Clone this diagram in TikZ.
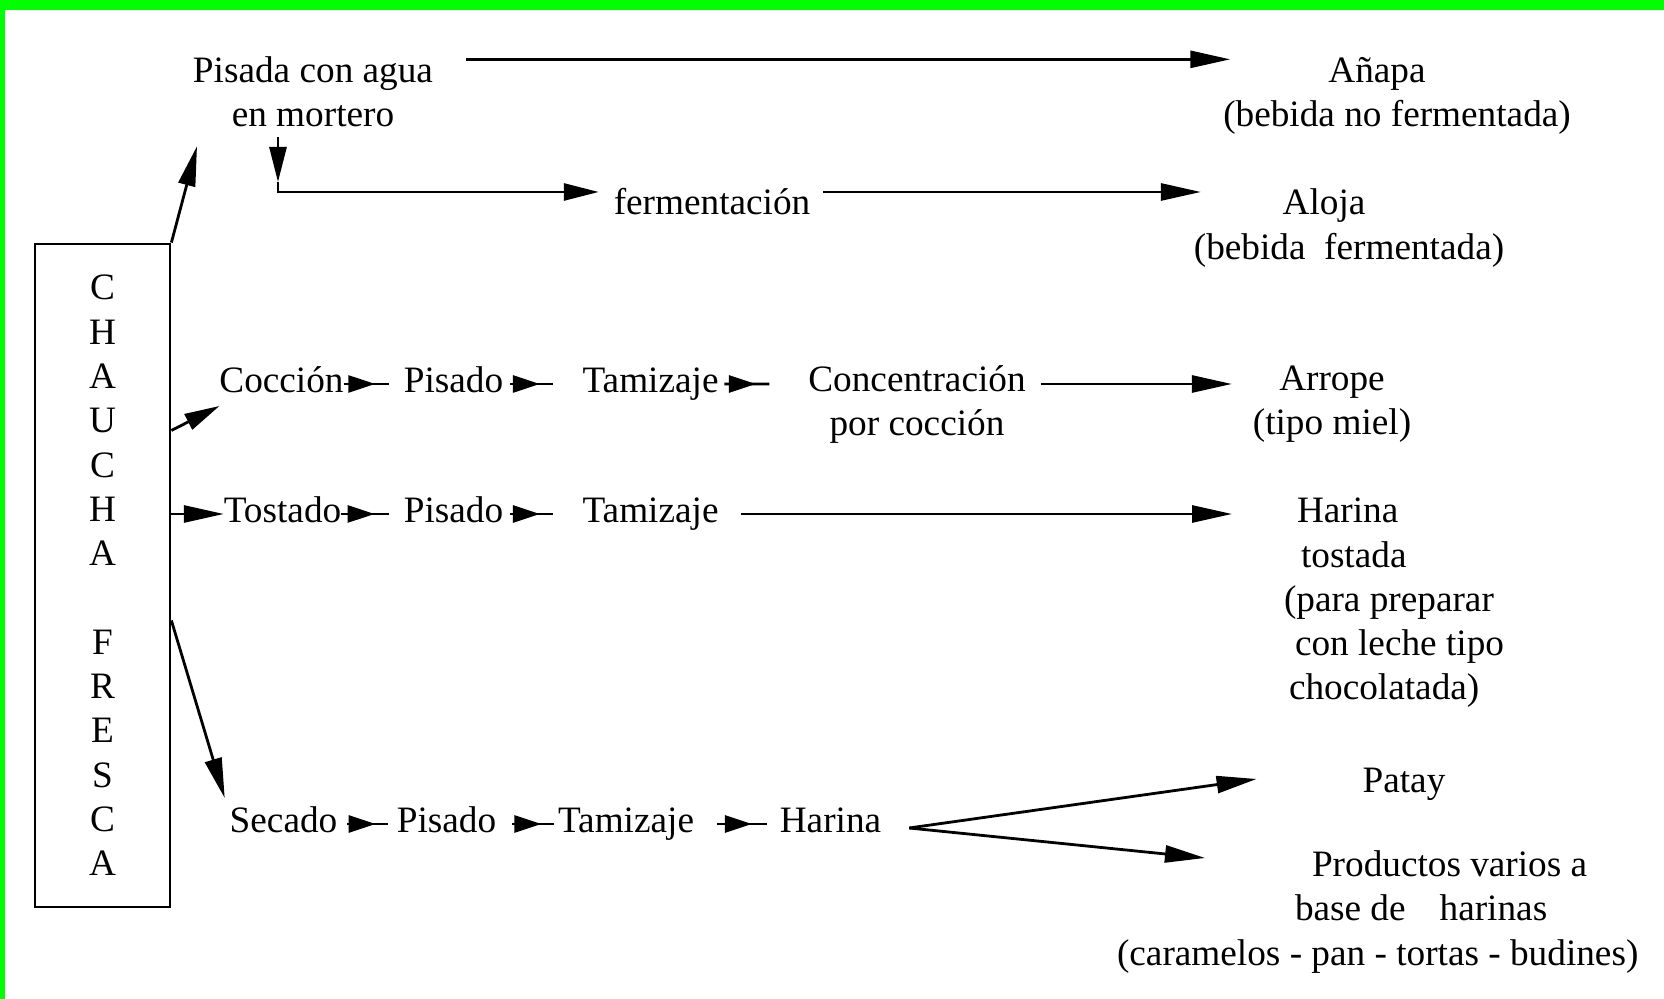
\documentclass[tikz,border=0pt]{standalone}
\usepackage{fontspec}
\setmainfont{Liberation Serif}
\usetikzlibrary{arrows.meta, decorations.markings}
\definecolor{framegreen}{RGB}{0,255,0}
\tikzstyle{stage} = [inner sep=0pt, 
outer sep=0pt, 
align=center, 
font=\fontsize{10.6pt}{12.6pt}\selectfont]
\tikzstyle{word} = [stage, 
text height=0.7em, 
text depth=0.22em]
\tikzstyle{pod} = [rectangle, 
draw=black, 
minimum width=13.5mm, 
minimum height=66.3mm, 
inner sep=0pt, 
align=center, 
font=\fontsize{10.6pt}{12.6pt}\selectfont]
\tikzstyle{arrow} = [-{Triangle[length=4mm,width=1.7mm]}]
\tikzstyle{shortarrow} = [-{Triangle[length=3.5mm,width=1.7mm]}]
\tikzstyle{steparrow} = [decoration={markings, 
mark=at position 0.7 with {\arrow{Triangle[length=2.7mm,width=1.7mm]}}}, 
postaction={decorate}]
\begin{document}
\begin{tikzpicture}[x=0.1mm, y=-0.1mm, line width=0.28mm]
\useasboundingbox (0,0) rectangle (1664,999);
\fill[framegreen] (0,0) rectangle (1664,10);
\fill[framegreen] (0,0) rectangle (5,999);

\node (chaucha) [pod] at (102.5,575.5) {C\\H\\A\\U\\C\\H\\A\\[12.6pt]F\\R\\E\\S\\C\\A};

\node (pisada) [stage] at (313,92) {Pisada con agua\\en mortero};
\node (anapa) [stage] at (1397,96) {Añapa\hspace*{4mm}\\(bebida no fermentada)};
\node (ferm) [word] at (712,206) {fermentación};
\node (aloja) [stage] at (1349,228) {Aloja\hspace*{5mm}\\(bebida\ \ fermentada)};
\coordinate (topline) at ([yshift=-0.2mm]anapa.north west);
\coordinate (bend) at (278,192);
\coordinate (bendtip) at (278,182);

\node (coccion) [word] at (281.5,384) {Cocción};
\node (pisado1) [word] at (453.5,384) {Pisado};
\node (tamiz1) [word] at (650.5,384) {Tamizaje};
\node (concent) [stage] at (917,404.5) {Concentración\\por cocción};
\node (arrope) [stage] at (1332,404.5) {Arrope\\(tipo miel)};

\node (tostado) [word] at (282.5,514) {Tostado};
\node (pisado2) [word] at (453.5,514) {Pisado};
\node (tamiz2) [word] at (650.5,514) {Tamizaje};
\node (harinat) [stage, align=left, anchor=west] at (1284,603) {\hspace*{1.3mm}Harina\\\hspace*{1.7mm}tostada\\(para preparar\\\hspace*{1.1mm}con leche tipo\\\hspace*{0.5mm}chocolatada)};

\node (secado) [word] at (283.5,824) {Secado};
\node (pisado3) [word] at (446.5,824) {Pisado};
\node (tamiz3) [word] at (626,824) {Tamizaje};
\node (harina) [word] at (830.5,824) {Harina};
\node (patay) [word] at (1404,784) {Patay};
\node (productos) [stage, align=left, anchor=west] at (1117,912) {\hspace*{19.5mm}Productos varios a\\\hspace*{17.8mm}base de\hspace{3.4mm}harinas\\(caramelos - pan - tortas - budines)};
\coordinate (fork) at ([shift={(2.8mm,-0.4mm)}]harina.east);

% bebidas
\draw [arrow] (chaucha.north east) -- ([shift={(0.4mm,-1.9mm)}]pisada.south west);
\draw [arrow, shorten <=3.3mm, shorten >=-0.7mm] (pisada.east |- topline) -- (topline);
\draw [shortarrow, shorten <=1mm] (pisada.south -| bend) -- (bendtip);
\draw [shortarrow, shorten >=1.5mm] (bendtip) -- (bend) -- (ferm.west |- bend);
\draw [arrow, shorten <=1.3mm, shorten >=-0.7mm] (ferm.east |- bend) -- (aloja.west |- bend);

% arrope
\draw [shortarrow] ([yshift=14.5mm]chaucha.east) -- ([yshift=-2.2mm]coccion.west);
\draw [steparrow] (coccion.east) -- ([xshift=-1.5mm]pisado1.west);
\draw [steparrow] ([xshift=0.7mm]pisado1.east) -- ([xshift=-3mm]tamiz1.west);
\draw [steparrow] ([xshift=0.6mm]tamiz1.east) -- ([shift={(-3.9mm,2.05mm)}]concent.west);
\draw [arrow, shorten <=1.5mm, shorten >=2.1mm] (concent.east |- tamiz1) -- (arrope.west |- tamiz1);

% harina tostada
\draw [arrow] (chaucha.east |- tostado) -- (tostado.west);
\draw [steparrow] (tostado.east) -- ([xshift=-1.5mm]pisado2.west);
\draw [steparrow] ([xshift=0.7mm]pisado2.east) -- ([xshift=-3mm]tamiz2.west);
\draw [arrow, shorten <=2.3mm, shorten >=5.2mm] (tamiz2.east) -- (harinat.west |- tamiz2);

% harina
\draw [arrow] ([yshift=-4.5mm]chaucha.east) -- ([shift={(-0.5mm,2.6mm)}]secado.west);
\draw [steparrow] ([xshift=1mm]secado.east) -- ([xshift=-0.9mm]pisado3.west);
\draw [steparrow] ([xshift=1.6mm]pisado3.east) -- ([xshift=-0.4mm]tamiz3.west);
\draw [steparrow] ([xshift=2.3mm]tamiz3.east) -- ([xshift=-1.3mm]harina.west);
\draw [arrow] (fork) -- ([shift={(-10.6mm,0.5mm)}]patay.west);
\draw [arrow] (fork) -- ([shift={(8.8mm,5.4mm)}]productos.west);
\end{tikzpicture}
\end{document}
